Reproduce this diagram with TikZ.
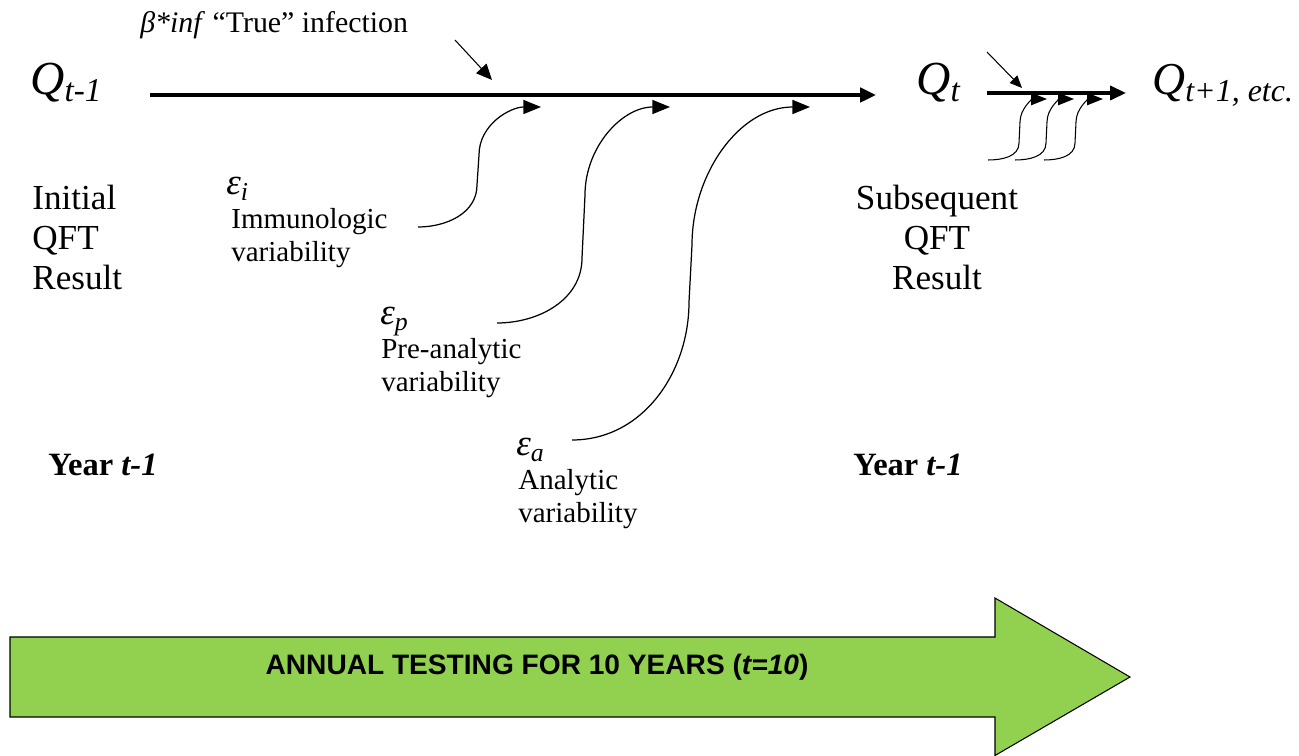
\documentclass[tikz,border=0pt]{standalone}
\usepackage{fontspec}
\setmainfont{Liberation Serif}
\newfontfamily\arialfont{Liberation Sans}
\usepackage{tikz}
\usetikzlibrary{arrows.meta,positioning,calc}
\definecolor{lightgreen}{RGB}{146,208,80}
\tikzstyle{QSYM} = [anchor=base west, inner sep=0pt, font=\fontsize{27}{30}\selectfont\itshape]
\tikzstyle{EPS} = [anchor=base west, inner sep=0pt, font=\fontsize{21}{24}\selectfont\itshape]
\tikzstyle{RESULT} = [anchor=north west, inner sep=0pt, align=left, font=\fontsize{20}{22.7}\selectfont]
\tikzstyle{SOURCE} = [anchor=north west, inner sep=0pt, align=left, font=\fontsize{16.5}{19}\selectfont]
\tikzstyle{YEAR} = [anchor=base west, inner sep=0pt, font=\fontsize{18.5}{21}\selectfont\bfseries]
\tikzstyle{ARROW} = [line width=2.2pt, -{Triangle[length=9pt,width=8pt]}]
\tikzstyle{CURVE} = [line width=0.7pt, -{Triangle[length=10pt,width=8pt]}]
\tikzstyle{THIN} = [line width=0.6pt, -{Triangle[length=9pt,width=8pt]}]

\begin{document}
\begin{tikzpicture}[x=0.02cm, y=-0.02cm]
\useasboundingbox (0,0) rectangle (1299,756);
% Place node
\node [QSYM] (Q_PREV) at (30,95) {Q\textsubscript{t-1}};
\node [QSYM] (Q_NOW) at (916,95) {Q\textsubscript{t}};
\node [QSYM, font=\fontsize{26}{30}\selectfont\itshape] (Q_NEXT) at (1152,95) {Q\textsubscript{t+1, etc.}};
\node [anchor=base west, inner sep=0pt, font=\fontsize{17}{20}\selectfont] (TRUE_INF) at (140,33) {\textit{β*inf} “True” infection};
%
\node [RESULT] (INITIAL) at (32,185) {Initial\\QFT\\Result};
\node [RESULT, anchor=north, align=center] (SUBSEQ) at (937,185) {Subsequent\\QFT\\Result};
\node [YEAR] (YEAR_PREV) at (48,476) {Year \textit{t-1}};
\node [YEAR] (YEAR_NOW) at (853,476) {Year \textit{t-1}};
%
\node [EPS] (EPS_I) at (226,195) {ε\textsubscript{i}};
\node [SOURCE] (SRC_I) at (231,208) {Immunologic\\variability};
\node [EPS] (EPS_P) at (380,325) {ε\textsubscript{p}};
\node [SOURCE] (SRC_P) at (381,338) {Pre-analytic\\variability};
\node [EPS] (EPS_A) at (516,456) {ε\textsubscript{a}};
\node [SOURCE] (SRC_A) at (518,469) {Analytic\\variability};
% Coordinates
\coordinate (LINE_START) at (150,95);
\coordinate (LINE_END) at (876,95);
\coordinate (INF_START) at (455,40);
\coordinate (INF_END) at (492,80);
\coordinate (CI_START) at (418,227);
\coordinate (CI_END) at (541,107);
\coordinate (CP_START) at (497,323);
\coordinate (CP_END) at (670,107);
\coordinate (CA_START) at (572,440);
\coordinate (CA_END) at (810,107);
\coordinate (NEXT_START) at (987,93);
\coordinate (NEXT_END) at (1126,93);
% LINES and ARROWS
\draw [ARROW] (LINE_START) -- (LINE_END);
\draw [THIN] (INF_START) -- (INF_END);
\draw [CURVE] (CI_START) to[out=0,in=-90] (477,185) -- (479,155) to[out=90,in=180] (CI_END);
\draw [CURVE] (CP_START) to[out=0,in=-90] (582,258) -- (585,195) to[out=90,in=180] (CP_END);
\draw [CURVE] (CA_START) to[out=0,in=-90] (689,302) -- (692,245) to[out=90,in=180] (CA_END);
%
\draw [ARROW, line width=1.8pt] (NEXT_START) -- (NEXT_END);
\draw [THIN, -{Triangle[length=7pt,width=6pt]}] (987,52) -- (1022,88);
\foreach \x in {0,27,56} {
  \draw [CURVE, line width=0.6pt, -{Triangle[length=9pt,width=7pt]}] (988+\x,160) to[out=0,in=-90] (1019+\x,143) -- (1020+\x,122) to[out=90,in=180] (1047+\x,99);
}
% Annual testing
\draw [fill=lightgreen, line width=0.6pt] (10,637) -- (995,637) -- (995,598) -- (1130,677) -- (995,755.5) -- (995,717) -- (10,717) -- cycle;
\node [font=\arialfont\bfseries\fontsize{16}{19}\selectfont] (ANNUAL) at (537,667) {ANNUAL TESTING FOR 10 YEARS (\textit{t=10})};
\end{tikzpicture}
\end{document}
